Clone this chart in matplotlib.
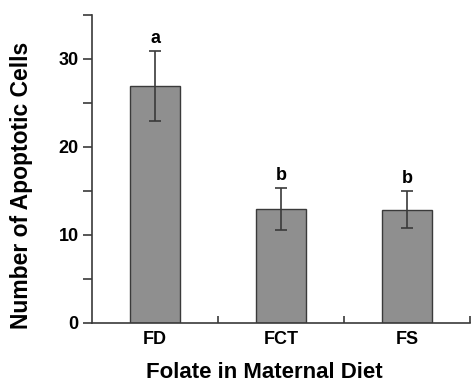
import matplotlib
matplotlib.use('Agg')
import matplotlib.pyplot as plt
import numpy as np

# Data
groups = ["FD", "FCT", "FS"]
means = [26.9, 12.95, 12.85]
errors = [4.0, 2.35, 2.1]
letters = ["a", "b", "b"]

plt.rcParams['font.family'] = ['Liberation Sans', 'DejaVu Sans']
plt.rcParams['font.weight'] = 'bold'

fig = plt.figure(figsize=(4.72, 3.84), dpi=100)
ax = fig.add_axes([0.195, 0.159, 0.801, 0.802])

x = np.arange(len(groups))
ax.bar(x, means, width=0.4, color="#8f8f8f", edgecolor="#3a3a3a", linewidth=1.0, zorder=2)
ax.errorbar(x, means, yerr=errors, fmt="none", ecolor="#3a3a3a", elinewidth=1.2,
            capsize=4, capthick=1.2, zorder=3)

for xi, m, e, lab in zip(x, means, errors, letters):
    ax.text(xi, m + e + 0.5, lab, ha="center", va="bottom", fontsize=13, fontweight="bold")

ax.set_xlim(-0.5, 2.5)
ax.set_ylim(0, 35)

# y ticks: majors labelled, unlabelled ticks at 5s and at the top
ax.set_yticks([0, 10, 20, 30])
ax.set_yticks([5, 15, 25, 35], minor=True)
ax.tick_params(axis="y", which="both", direction="out", length=6.5, width=1.2,
               color="#3a3a3a", labelsize=13, pad=3)

# x: category labels at centers, inward ticks at category boundaries
ax.set_xticks(x)
ax.set_xticklabels(groups)
ax.set_xticks([0.5, 1.5, 2.5], minor=True)
ax.tick_params(axis="x", which="major", length=0, labelsize=13, pad=6)
ax.tick_params(axis="x", which="minor", direction="in", length=5, width=1.2, color="#3a3a3a")

for lbl in ax.get_xticklabels() + ax.get_yticklabels():
    lbl.set_fontweight("bold")

for side in ["top", "right"]:
    ax.spines[side].set_visible(False)
for side in ["left", "bottom"]:
    ax.spines[side].set_linewidth(1.2)
    ax.spines[side].set_color("#3a3a3a")

ax.set_ylabel("Number of Apoptotic Cells", fontsize=16.5, fontweight="bold")
ax.yaxis.set_label_coords(-0.156, 0.448)
ax.set_xlabel("Folate in Maternal Diet", fontsize=16, fontweight="bold", va="baseline")
ax.xaxis.set_label_coords(0.455, -0.178)

fig.savefig("out.png", dpi=100)
plt.close(fig)
